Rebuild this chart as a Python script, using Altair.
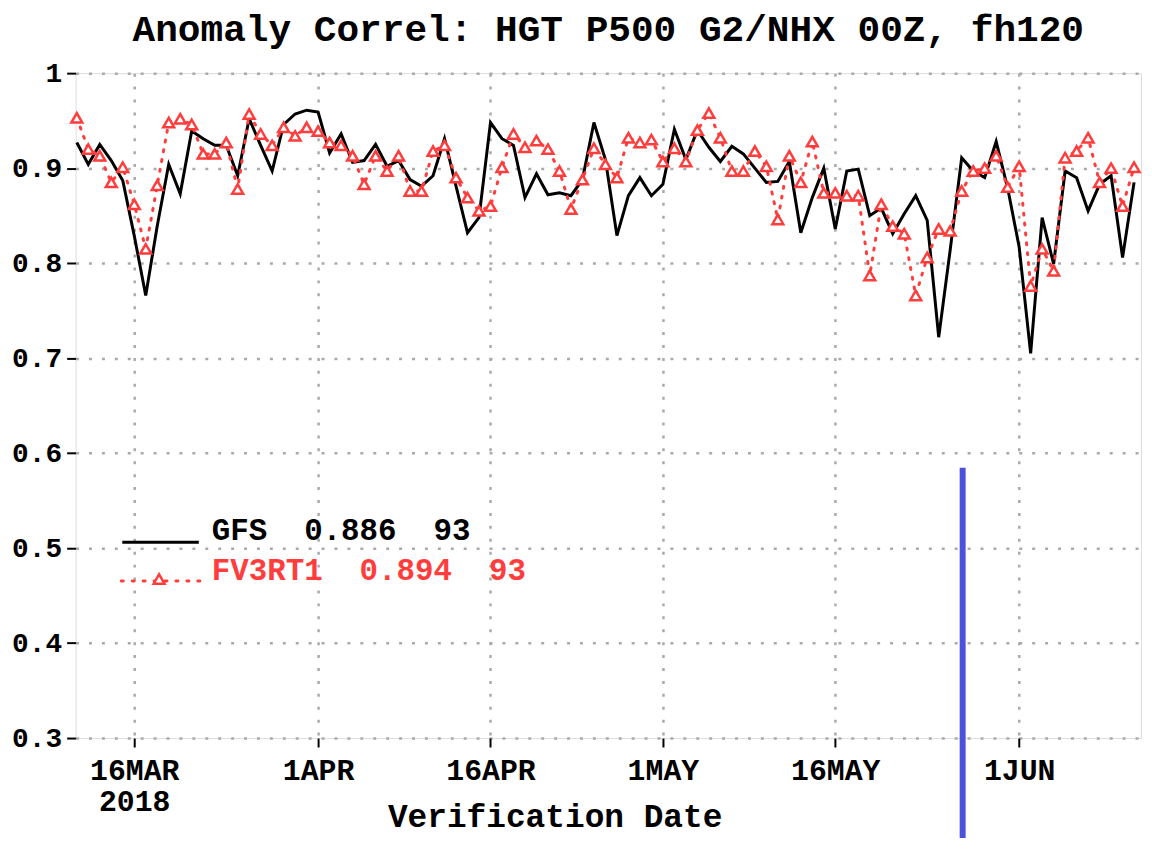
import altair as alt
import pandas as pd

# ---------------- data ----------------
dates = pd.date_range("2018-03-11", periods=93, freq="D").strftime("%Y-%m-%d").tolist()

gfs = [0.927, 0.904, 0.925, 0.908, 0.887, 0.829, 0.766, 0.839, 0.904, 0.873,
       0.939, 0.931, 0.924, 0.924, 0.892, 0.952, 0.924, 0.897, 0.946, 0.957,
       0.961, 0.959, 0.916, 0.936, 0.906, 0.908, 0.925, 0.902, 0.908, 0.888,
       0.881, 0.892, 0.931, 0.881, 0.832, 0.848, 0.948, 0.931, 0.924, 0.869,
       0.894, 0.872, 0.874, 0.871, 0.888, 0.948, 0.909, 0.829, 0.871, 0.890,
       0.871, 0.883, 0.941, 0.909, 0.940, 0.922, 0.907, 0.923, 0.915, 0.900,
       0.885, 0.886, 0.907, 0.832, 0.869, 0.900, 0.836, 0.897, 0.899, 0.850,
       0.858, 0.831, 0.852, 0.871, 0.845, 0.722, 0.814, 0.911, 0.897, 0.890,
       0.928, 0.879, 0.817, 0.705, 0.848, 0.799, 0.897, 0.890, 0.855, 0.883,
       0.892, 0.806, 0.885]

fv3 = [0.953, 0.920, 0.913, 0.885, 0.901, 0.862, 0.815, 0.882, 0.948, 0.952,
       0.946, 0.915, 0.915, 0.927, 0.878, 0.957, 0.936, 0.924, 0.943, 0.934,
       0.943, 0.939, 0.927, 0.924, 0.913, 0.883, 0.913, 0.897, 0.913, 0.876,
       0.876, 0.918, 0.924, 0.890, 0.869, 0.855, 0.860, 0.901, 0.936, 0.922,
       0.929, 0.920, 0.897, 0.857, 0.888, 0.921, 0.904, 0.890, 0.932, 0.927,
       0.930, 0.907, 0.921, 0.907, 0.940, 0.958, 0.932, 0.897, 0.897, 0.918,
       0.902, 0.846, 0.913, 0.885, 0.928, 0.874, 0.874, 0.871, 0.871, 0.787,
       0.862, 0.839, 0.831, 0.766, 0.806, 0.836, 0.834, 0.876, 0.897, 0.900,
       0.913, 0.880, 0.902, 0.776, 0.815, 0.792, 0.911, 0.918, 0.932, 0.885,
       0.900, 0.860, 0.901]

series_names = ["GFS", "FV3RT1"]
series_means = ["0.886", "0.894"]
series_counts = ["93", "93"]

y_ticks = [0.3, 0.4, 0.5, 0.6, 0.7, 0.8, 0.9, 1.0]
x_tick_dates = [(2018, 3, 16), (2018, 4, 1), (2018, 4, 16), (2018, 5, 1), (2018, 5, 16), (2018, 6, 1)]
marker_dates = ["2018-05-27T02:00:00Z"]

title_text = "Anomaly Correl: HGT P500 G2/NHX 00Z, fh120"
x_title = "Verification Date"

# ---------------- style ----------------
FONT = "Liberation Mono"
RED = "#ff3d3d"
W, H = 1072, 669
SP = "\u00a0\u00a0"

df = pd.DataFrame({"date": dates, "GFS": gfs, "FV3RT1": fv3})
marker_df = pd.DataFrame({"date": marker_dates})

x_scale = alt.Scale(
    type="utc",
    domain=[alt.DateTime(year=2018, month=3, date=10, hours=21, minutes=30, utc=True),
            alt.DateTime(year=2018, month=6, date=11, hours=14, minutes=30, utc=True)],
)
x_axis = alt.Axis(
    values=[alt.DateTime(year=y, month=m, date=d, utc=True) for (y, m, d) in x_tick_dates],
    labelExpr="datum.index == 0 ? [upper(utcFormat(datum.value, '%-d%b')), utcFormat(datum.value, '%Y')] : upper(utcFormat(datum.value, '%-d%b'))",
    labelFont=FONT, labelFontSize=30, labelFontWeight="bold", labelColor="black",
    labelLineHeight=31, labelPadding=9, labelFlush=False,
    tickSize=9, tickWidth=2, tickColor="black",
    grid=True, gridColor="#aaaaaa", gridDash=[3, 10], gridWidth=2.5,
    domain=False,
    title=x_title, titleFont=FONT, titleFontSize=33, titleFontWeight="bold",
    titleColor="black", titleX=482, titleY=89, titleBaseline="alphabetic",
    titleAnchor="start", titleAlign="center",
)
y_scale = alt.Scale(domain=[0.3, 1.0], nice=False, zero=False)
y_axis = alt.Axis(
    values=y_ticks,
    labelExpr="datum.value >= 0.999 ? '1' : format(datum.value, '.1f')",
    labelFont=FONT, labelFontSize=28, labelFontWeight="bold", labelColor="black",
    labelPadding=5, labelFlush=False,
    tickSize=9, tickWidth=2, tickColor="black",
    grid=True, gridColor="#aaaaaa", gridDash=[3, 10], gridWidth=2.5,
    domain=False, title=None,
)

base = alt.Chart(df)
X = alt.X("date:T", scale=x_scale, axis=x_axis)

gfs_line = base.mark_line(color="black", strokeWidth=3).encode(
    x=X, y=alt.Y("GFS:Q", scale=y_scale, axis=y_axis)
)
fv3_line = base.mark_line(color=RED, strokeWidth=3, strokeDash=[2, 8], strokeCap="round").encode(
    x=X, y=alt.Y("FV3RT1:Q", scale=y_scale, axis=y_axis)
)
fv3_pts = base.mark_point(shape="triangle-up", size=120, filled=True, fill="white",
                          stroke=RED, strokeWidth=2.5, opacity=1).encode(
    x=X, y=alt.Y("FV3RT1:Q", scale=y_scale, axis=y_axis)
)

marker = alt.Chart(marker_df).mark_rule(color="#4a52dc", strokeWidth=6).encode(
    x=alt.X("date:T", scale=x_scale, axis=x_axis), y=alt.value(397), y2=alt.value(H + 104)
)

# ---------------- legend ----------------
one = pd.DataFrame({"k": [0]})
leg_gfs_line = alt.Chart(one).mark_rule(color="black", strokeWidth=3).encode(
    x=alt.value(47), x2=alt.value(124), y=alt.value(472)
)
leg_gfs_text = alt.Chart(one).mark_text(
    text=f"{series_names[0]}{SP}{series_means[0]}{SP}{series_counts[0]}",
    font=FONT, fontSize=31, fontWeight="bold", color="black", align="left", baseline="middle"
).encode(x=alt.value(137), y=alt.value(461))
leg_fv3_line = alt.Chart(one).mark_rule(color=RED, strokeWidth=3, strokeDash=[2, 9], strokeCap="round").encode(
    x=alt.value(46), x2=alt.value(128), y=alt.value(511)
)
leg_fv3_pt = alt.Chart(one).mark_point(shape="triangle-up", size=120, filled=True, fill="white",
                                        stroke=RED, strokeWidth=2.5, opacity=1).encode(
    x=alt.value(84), y=alt.value(509)
)
leg_fv3_text = alt.Chart(one).mark_text(
    text=f"{series_names[1]}{SP}{series_means[1]}{SP}{series_counts[1]}",
    font=FONT, fontSize=31, fontWeight="bold", color=RED, align="left", baseline="middle"
).encode(x=alt.value(137), y=alt.value(501))

chart = alt.layer(
    gfs_line, fv3_line, fv3_pts, marker,
    leg_gfs_line, leg_gfs_text, leg_fv3_line, leg_fv3_pt, leg_fv3_text,
).properties(
    width=W, height=H,
    autosize=alt.AutoSizeParams(type="none"),
    padding={"left": 68, "top": 63, "right": 3, "bottom": 98},
    title=alt.TitleParams(text=title_text, font=FONT, fontSize=38, fontWeight="bold",
                          color="black", anchor="middle", offset=10),
).configure_view(
    stroke="black", strokeWidth=3
).configure(background="white")

chart.save("out.html", embed_options={"renderer": "svg", "actions": False})
